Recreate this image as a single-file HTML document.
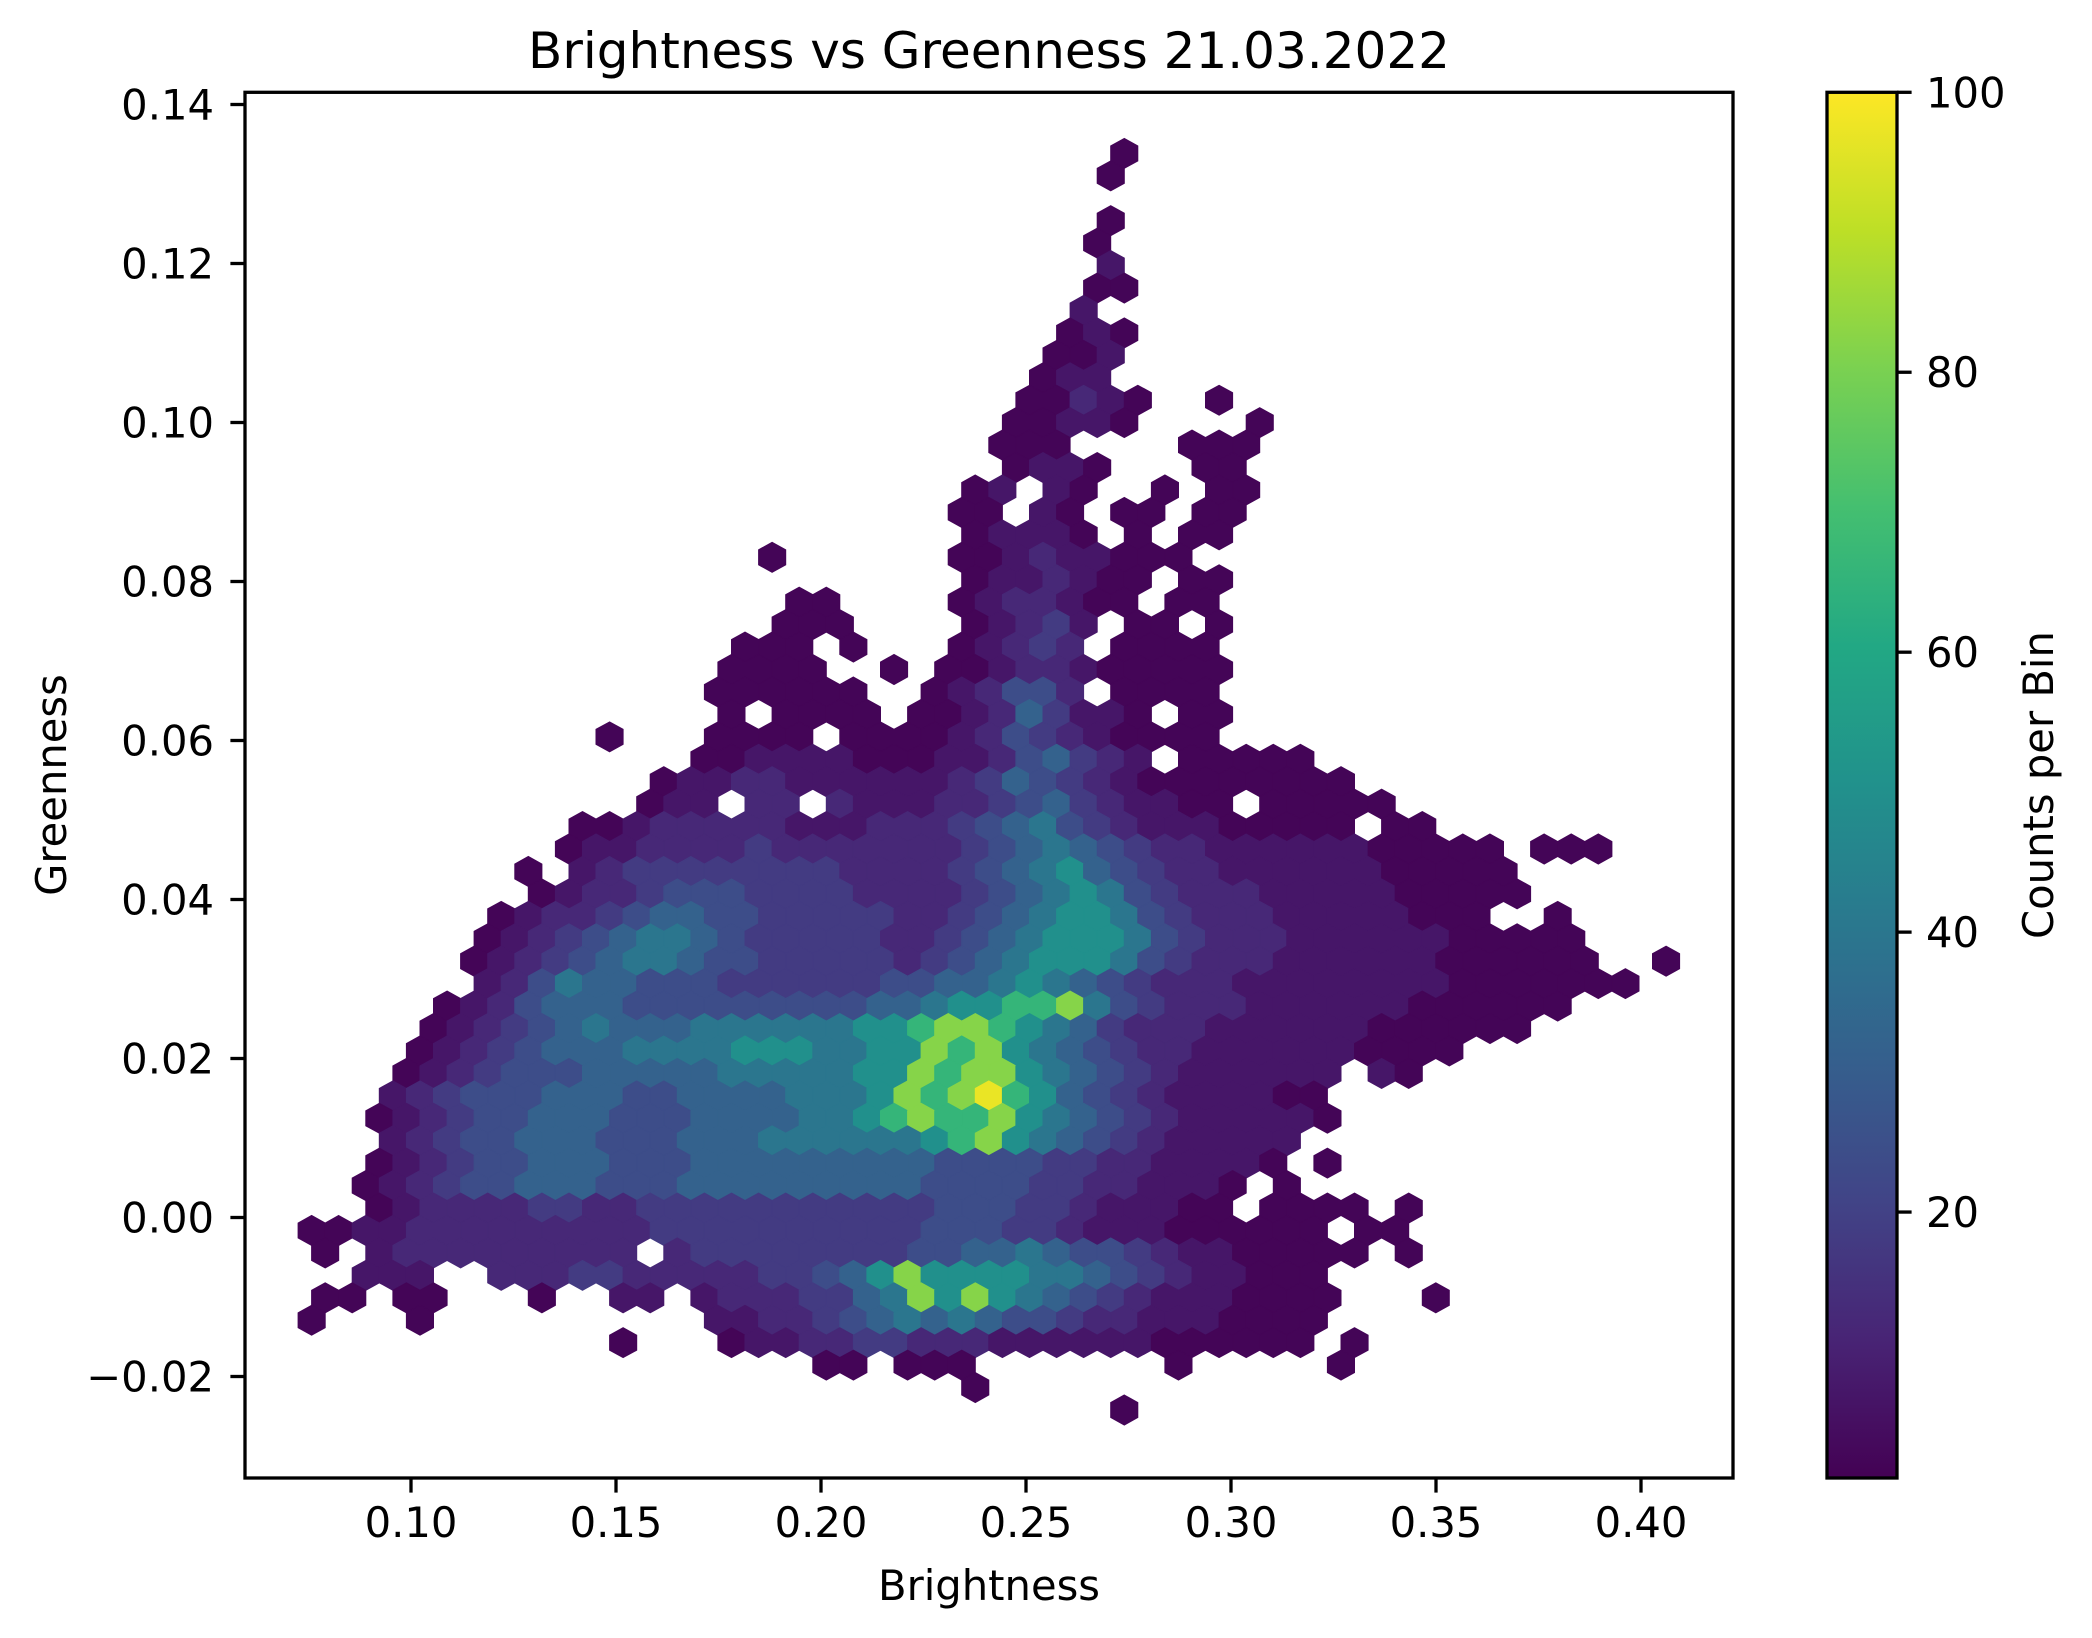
<!DOCTYPE html>
<html><head><meta charset="utf-8"><title>Brightness vs Greenness</title>
<style>html,body{margin:0;padding:0;background:#fff;}svg{display:block;}text{font-family:"DejaVu Sans","Liberation Sans",sans-serif;fill:#000;}</style>
</head><body>
<svg id="chart" width="2092" height="1638" viewBox="0 0 2092 1638" xmlns="http://www.w3.org/2000/svg">
<defs><linearGradient id="vir" x1="0" y1="1" x2="0" y2="0"></linearGradient></defs>
<text x="989" y="68" font-size="50" text-anchor="middle">Brightness vs Greenness 21.03.2022</text>
<g id="hexes"></g>
<rect x="245" y="92.3" width="1488" height="1385.7" fill="none" stroke="#000" stroke-width="3.3"/>
<g id="xticks"></g>
<g id="yticks"></g>
<text x="989" y="1600" font-size="41.7" text-anchor="middle">Brightness</text>
<text transform="translate(66,785) rotate(-90)" font-size="41.7" text-anchor="middle">Greenness</text>
<rect x="1827" y="92.3" width="70" height="1385.7" fill="url(#vir)" stroke="#000" stroke-width="3.3"/>
<g id="cticks"></g>
<text transform="translate(2053,785) rotate(-90)" font-size="41.7" text-anchor="middle">Counts per Bin</text>
</svg>
<script>
const xTicks = [0.10, 0.15, 0.20, 0.25, 0.30, 0.35, 0.40];
const xTickLabels = ["0.10","0.15","0.20","0.25","0.30","0.35","0.40"];
const yTicks = [-0.02, 0.00, 0.02, 0.04, 0.06, 0.08, 0.10, 0.12, 0.14];
const yTickLabels = ["\u22120.02","0.00","0.02","0.04","0.06","0.08","0.10","0.12","0.14"];
const cTicks = [20, 40, 60, 80, 100];
const cTickLabels = ["20","40","60","80","100"];
const levelChars = ["1","2","3","4","5","6","7","8","9","A","B"];
const levelCounts = [2, 7, 12, 18, 24, 32, 40, 50, 66, 82, 97];
const rowIndex = [56,55,53,52,51,50,49,48,47,46,45,44,43,42,41,40,39,38,37,36,35,34,33,32,31,30,29,28,27,26,25,24,23,22,21,20,19,18,17,16,15,14,13,12,11,10,9,8,7,6,5,4,3,2,1,0];
const rowStart = [30,29,29,29,29,29,28,28,27,27,26,26,25,26,24,24,24,17,24,18,17,16,15,15,15,11,14,13,12,10,9,8,8,7,6,6,6,5,4,4,3,3,2,3,2,2,2,0,0,2,0,0,11,19,24,30];
const rowCells = [
"1","1","1","1","2","11","2","121","112","122",
"11321..1","11221....1","111....111","1221...11","12.21..1.11","11.21.11.11","12221.1.11",
"1......112322111","1223211.11","11....1233211.11","111....12342.11.1","111.1...12343.1111",
"1111..1.11233211111","111111..123553.1111","1.1111.112364221.11","1...1111.11112354321111",
"11222211122356432.11111","12233222222346543211111111","122.33.322233456432211.11111",
"11233333222333456754322211111.11","12233334333333345676543322222211111.111",
"1.23444444443333456786543322222211111","1233455544443333456787543332222211111",
"1233456655444443345678875433322222111..1","12345677654444433456788875433322222211111",
"123456776554444434567888754333222222111111..1","2357665554444445566787654333222222221111111",
"12356665555555556678899A754333222222111111","1234567666777777889AA98764333222222111111",
"1234566677778887788A9A87654332222221111","1234555666667777788A9AA876543222222.21",
"2345556665566667778A9AB986543222211","12345566655566667789A99A876543222221",
"2345566655566677777789A87654322222","1234556665556666666665555443322221.1",
"123455666555666666666555544332221.1","12333344334444444444455544322211.1111.1",
"11223333333334444444444555443222111111.11","1.2333333333.34444444455667655432211111.1",
"222..333443333344568A888877654322111","11.11...1..22.23334467A8A8765432221111...1",
"1...1..........22334567676554332221111","1...1223344333222222111111.1",
"11.111.......1.....1","1","1"];
const viridisStops = ["#440154","#482475","#414487","#355f8d","#2a788e","#21918c","#22a884","#44bf70","#7ad151","#bddf26","#fde725"];

const NS = "http://www.w3.org/2000/svg";
const AX = {left:245, right:1733, top:92.3, bottom:1478};
function xScale(v){ return 411 + (v - 0.10) * 4100; }
function yScale(v){ return 1217.5 - v * 7950; }
const CMIN = 1, CMAX = 100;
function cScale(c){ return AX.bottom - (c - CMIN) / (CMAX - CMIN) * (AX.bottom - AX.top); }
function hexToRgb(h){ return [parseInt(h.substr(1,2),16),parseInt(h.substr(3,2),16),parseInt(h.substr(5,2),16)]; }
function viridis(t){
  t = Math.max(0, Math.min(1, t));
  const p = t * (viridisStops.length - 1), i = Math.min(Math.floor(p), viridisStops.length - 2), f = p - i;
  const a = hexToRgb(viridisStops[i]), b = hexToRgb(viridisStops[i+1]);
  return "rgb(" + a.map((v,j)=>Math.round(v + (b[j]-v)*f)).join(",") + ")";
}
const grad = document.getElementById("vir");
viridisStops.forEach((c,i)=>{ const s=document.createElementNS(NS,"stop"); s.setAttribute("offset",(i/(viridisStops.length-1)).toString()); s.setAttribute("stop-color",c); grad.appendChild(s); });

const X_MIN = 0.07576, SX = 0.006607, Y_MIN = -0.024214, HALF_SY = 0.0028226;
const hw = SX * 4100 / 2, hv = HALF_SY * 2 * 7950 / 3;
const hexG = document.getElementById("hexes");
rowIndex.forEach((k, r) => {
  const cells = rowCells[r];
  for (let j = 0; j < cells.length; j++) {
    const li = levelChars.indexOf(cells[j]);
    if (li < 0) continue;
    const i = rowStart[r] + j;
    const xd = X_MIN + (i + (k % 2 ? 0.5 : 0)) * SX;
    const yd = Y_MIN + k * HALF_SY;
    const cx = xScale(xd), cy = yScale(yd);
    const col = viridis((levelCounts[li] - CMIN) / (CMAX - CMIN));
    const pts = [[0,-hv],[hw,-hv/2],[hw,hv/2],[0,hv],[-hw,hv/2],[-hw,-hv/2]].map(p=>(cx+p[0]).toFixed(1)+","+(cy+p[1]).toFixed(1)).join(" ");
    const poly = document.createElementNS(NS,"polygon");
    poly.setAttribute("points", pts);
    poly.setAttribute("fill", col);
    poly.setAttribute("stroke", col);
    poly.setAttribute("stroke-width", "1");
    
    
    hexG.appendChild(poly);
  }
});

function mk(tag, attrs, parent){ const e=document.createElementNS(NS,tag); for(const a in attrs) e.setAttribute(a, attrs[a]); parent.appendChild(e); return e; }
const xg = document.getElementById("xticks");
xTicks.forEach((v,i)=>{
  const x = xScale(v);
  const t = mk("line",{x1:x,x2:x,y1:AX.bottom,y2:AX.bottom+14.6,stroke:"#000","stroke-width":3.3},xg);
  
  
  const l = mk("text",{x:x,y:1537,"font-size":41.7,"text-anchor":"middle"},xg);
  l.textContent = xTickLabels[i];
  
  
});
const yg = document.getElementById("yticks");
yTicks.forEach((v,i)=>{
  const y = yScale(v);
  const t = mk("line",{x1:AX.left-14.6,x2:AX.left,y1:y,y2:y,stroke:"#000","stroke-width":3.3},yg);
  
  
  const l = mk("text",{x:214,y:y+15,"font-size":41.7,"text-anchor":"end"},yg);
  l.textContent = yTickLabels[i];
  
  
});
const cg = document.getElementById("cticks");
cTicks.forEach((v,i)=>{
  const y = cScale(v);
  const t = mk("line",{x1:1897,x2:1911.6,y1:y,y2:y,stroke:"#000","stroke-width":3.3},cg);
  
  
  const l = mk("text",{x:1926,y:y+15,"font-size":41.7,"text-anchor":"start"},cg);
  l.textContent = cTickLabels[i];
  
  
});
</script>
</body></html>
